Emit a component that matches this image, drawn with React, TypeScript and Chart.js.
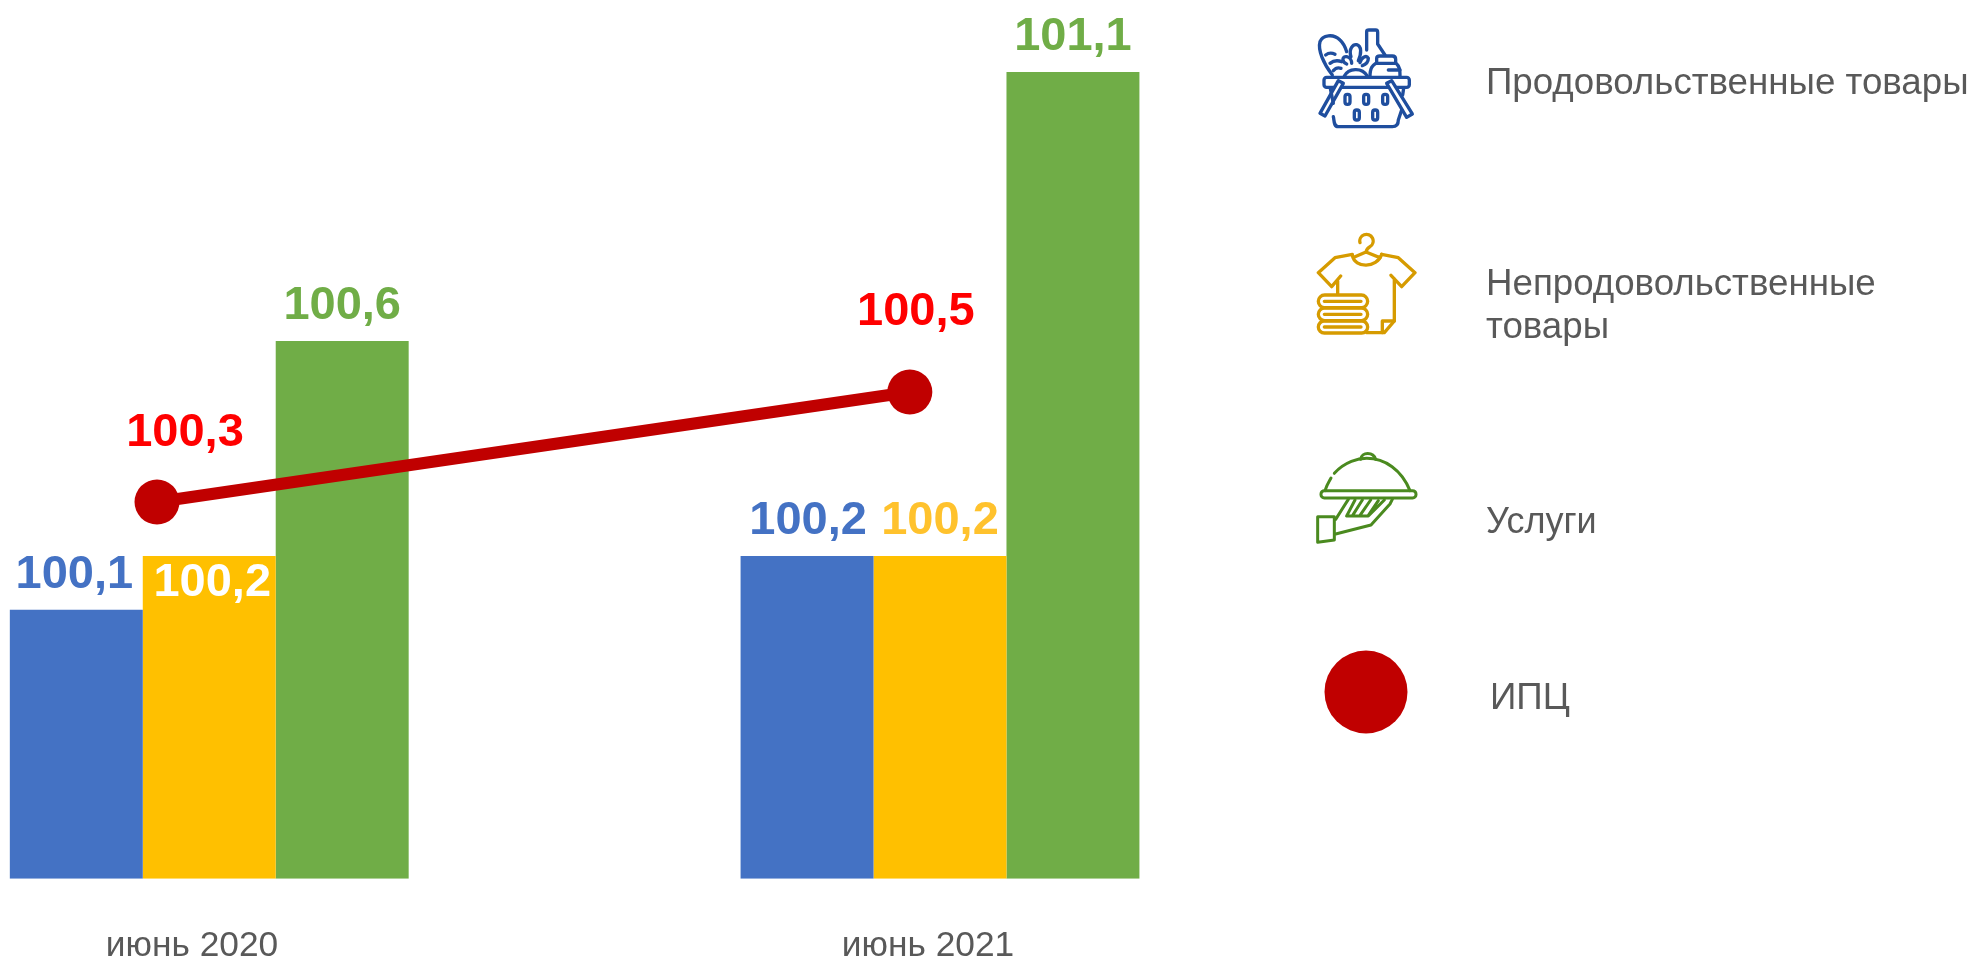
import React, { useEffect, useRef } from "react";
import { Chart, registerables } from "chart.js";

Chart.register(...registerables);

const categories = ["июнь 2020", "июнь 2021"];
const foodValues = [100.1, 100.2];
const nonFoodValues = [100.2, 100.2];
const serviceValues = [100.6, 101.1];
const cpiValues = [100.3, 100.5];
// The CPI points and the month captions do not sit on the centres of the bar groups in the picture.
const cpiPlacement = [-0.0715, 0.9587];
const captionPlacement = [-0.0236, 0.9836];
const seriesNames = ["Продовольственные товары", "Непродовольственные товары", "Услуги", "ИПЦ"];
const axisMin = 99.6;
const axisMax = 101.1;

const FONT = "'Liberation Sans', Arial, sans-serif";
const BLUE = "#4472C4";
const YELLOW = "#FFC000";
const GREEN = "#70AD47";
const DARK_RED = "#C00000";
const GREY = "#595959";

type LabelStyle = { color: string; dx: number; dy: number };
const labelStyles: LabelStyle[][] = [
  [{ color: BLUE, dx: -2, dy: -22 }, { color: BLUE, dx: 1, dy: -22 }],
  [{ color: "#FFFFFF", dx: 3, dy: 40 }, { color: "#FFC22D", dx: 0, dy: -22 }],
  [{ color: GREEN, dx: 0, dy: -22 }, { color: GREEN, dx: 0, dy: -22 }],
  [{ color: "#FF0000", dx: 28, dy: -56 }, { color: "#FF0000", dx: 6, dy: -67 }],
];

const dataLabels = {
  id: "dataLabels",
  afterDatasetsDraw(chart: any) {
    const ctx = chart.ctx;
    ctx.save();
    ctx.font = `bold 47px ${FONT}`;
    ctx.textAlign = "center";
    ctx.textBaseline = "alphabetic";
    chart.data.datasets.forEach((ds: any, i: number) => {
      chart.getDatasetMeta(i).data.forEach((el: any, j: number) => {
        const s = labelStyles[i][j];
        ctx.fillStyle = s.color;
        ctx.fillText(ds.data[j].y.toFixed(1).replace(".", ","), el.x + s.dx, el.y + s.dy);
      });
    });
    ctx.restore();
  },
};

function BasketIcon() {
  return (
    <g transform="translate(1305,20) scale(0.3333)" fill="none" stroke="#1F4E9E" strokeWidth={10} strokeLinecap="round" strokeLinejoin="round">
      <path d="M82 165 C55 130 38 90 45 65 C52 45 85 40 105 60 C118 72 122 85 125 95" />
      <path d="M62 105 Q75 95 90 103 M75 130 Q90 118 110 125 M85 152 Q95 140 108 145" />
      <path d="M118 168 C130 145 170 140 187 168" />
      <path d="M125 132 C108 125 112 108 125 110 C135 112 140 122 140 130" />
      <path d="M138 110 C130 85 145 72 155 74 C170 78 170 100 160 122" />
      <path d="M165 128 C170 110 185 105 190 115 C190 130 178 135 172 137" />
      <path d="M185 90 L185 35 Q185 30 192 30 L212 30 Q218 30 218 37 L218 72 L240 105" />
      <path d="M195 170 C195 140 205 135 215 128 L215 115 Q215 108 225 108 L262 108 Q272 108 272 118 L272 128 C285 140 285 150 285 170" />
      <path d="M215 130 L270 130 M250 150 L285 150" />
      <rect x={57} y={172} width={256} height={30} rx={8} />
      <path d="M100 182 L115 190 L60 288 L45 280 Z" fill="#fff" />
      <path d="M260 182 L245 190 L305 292 L322 282 Z" fill="#fff" />
      <path d="M85 250 L76 205 M85 290 C88 300 85 320 100 320 L262 320 Q280 320 280 300 L290 270 M293 225 L296 205" />
      <rect x={120} y={223} width={15} height={30} rx={7} />
      <rect x={176} y={223} width={15} height={30} rx={7} />
      <rect x={233} y={223} width={15} height={30} rx={7} />
      <rect x={148} y={270} width={15} height={30} rx={7} />
      <rect x={203} y={270} width={15} height={30} rx={7} />
    </g>
  );
}

function ShirtIcon() {
  return (
    <g transform="translate(1305,226) scale(0.3333)" fill="none" stroke="#D69B00" strokeWidth={10} strokeLinecap="round" strokeLinejoin="round">
      <path d="M165 50 A20 20 0 1 1 195 62 Q185 68 183 78 L150 92 M183 78 L225 95" />
      <path d="M142 88 C150 128 215 128 230 85" />
      <path d="M142 85 L90 95 L40 140 L80 182 L107 150 M98 165 L98 205" />
      <path d="M230 85 L280 95 L330 140 L290 182 L258 148 M268 158 L268 285 L238 320 L185 320" />
      <path d="M232 320 L232 285 L268 285" />
      <rect x={40} y={207} width={148} height={38} rx={19} />
      <rect x={40} y={246} width={148} height={38} rx={19} />
      <rect x={40} y={285} width={148} height={36} rx={18} />
      <path d="M58 226 L168 226 M58 265 L168 265 M58 303 L168 303" />
    </g>
  );
}

function ClocheIcon() {
  return (
    <g transform="translate(1305,440) scale(0.3333)" fill="none" stroke="#4A8A1F" strokeWidth={9} strokeLinecap="round" strokeLinejoin="round">
      <path d="M60 152 C65 135 72 125 78 114 M88 100 C120 65 160 55 185 55 C240 55 290 90 315 152" />
      <path d="M167 58 C170 35 205 35 212 58" />
      <rect x={48} y={152} width={285} height={22} rx={10} />
      <path d="M130 178 L92 238 M92 282 L198 255 L255 192 L262 178" />
      <path d="M150 180 L125 228 L190 228 L238 180 M172 180 L143 226 M197 180 L165 226 M220 182 L190 226" />
      <path d="M38 230 L88 230 L88 300 L38 307 Z" />
    </g>
  );
}

function Legend() {
  const text = { fontFamily: FONT, fontSize: 36.7, fill: GREY };
  const nonFood = seriesNames[1].split(" ");
  return (
    <svg width={1973} height={959} style={{ position: "absolute", left: 0, top: 0, pointerEvents: "none" }}>
      <BasketIcon />
      <ShirtIcon />
      <ClocheIcon />
      <circle cx={1366} cy={692} r={41.5} fill={DARK_RED} />
      <text x={1486} y={94} {...text}>{seriesNames[0]}</text>
      <text x={1486} y={295} {...text}>{nonFood[0]}</text>
      <text x={1486} y={338} {...text}>{nonFood[1]}</text>
      <text x={1486} y={533} {...text} fontSize={36}>{seriesNames[2]}</text>
      <text x={1490} y={709} {...text}>{seriesNames[3]}</text>
    </svg>
  );
}

export default function App() {
  const ref = useRef<HTMLCanvasElement>(null);

  useEffect(() => {
    const indexed = (values: number[]) => values.map((y, x) => ({ x, y }));
    const barCommon = { order: 1, base: axisMin };
    const chart = new Chart(ref.current as HTMLCanvasElement, {
      type: "bar",
      data: {
        datasets: [
          { label: seriesNames[0], data: indexed(foodValues), backgroundColor: BLUE, ...barCommon },
          { label: seriesNames[1], data: indexed(nonFoodValues), backgroundColor: YELLOW, ...barCommon },
          { label: seriesNames[2], data: indexed(serviceValues), backgroundColor: GREEN, ...barCommon },
          {
            type: "line",
            label: seriesNames[3],
            data: cpiValues.map((y, i) => ({ x: cpiPlacement[i], y })),
            borderColor: DARK_RED,
            backgroundColor: DARK_RED,
            borderWidth: 12,
            pointRadius: 22.5,
            pointBackgroundColor: DARK_RED,
            pointBorderWidth: 0,
            tension: 0,
            order: 0,
            yAxisID: "y2",
          },
        ] as any,
      },
      options: {
        animation: false,
        responsive: false,
        devicePixelRatio: 1,
        layout: { autoPadding: false, padding: { left: 0, right: 813, top: 72, bottom: 0 } },
        datasets: { bar: { categoryPercentage: 0.5458, barPercentage: 1 } },
        plugins: { legend: { display: false }, tooltip: { enabled: false } },
        scales: {
          x: {
            type: "linear",
            offset: false,
            min: -0.28635,
            max: 1.30106,
            grid: { display: false, drawTicks: false },
            border: { display: false },
            afterBuildTicks(scale: any) {
              scale.ticks = captionPlacement.map((value) => ({ value }));
            },
            afterFit(scale: any) {
              scale.height = 80.3;
              scale.paddingLeft = 0;
              scale.paddingRight = 0;
            },
            ticks: {
              autoSkip: false,
              maxRotation: 0,
              minRotation: 0,
              padding: 46,
              color: GREY,
              font: { family: FONT, size: 35.3 },
              callback: (_v: number, i: number) => categories[i],
            },
          },
          y: { display: false, min: axisMin, max: axisMax },
          y2: { display: false, min: 99.6151, max: 101.0818 },
        },
      } as any,
      plugins: [dataLabels],
    });
    return () => chart.destroy();
  }, []);

  return (
    <div style={{ position: "absolute", left: 0, top: 0, width: 1973, height: 959, background: "#fff", overflow: "hidden" }}>
      <canvas ref={ref} width={1973} height={959} style={{ display: "block" }} />
      <Legend />
    </div>
  );
}
